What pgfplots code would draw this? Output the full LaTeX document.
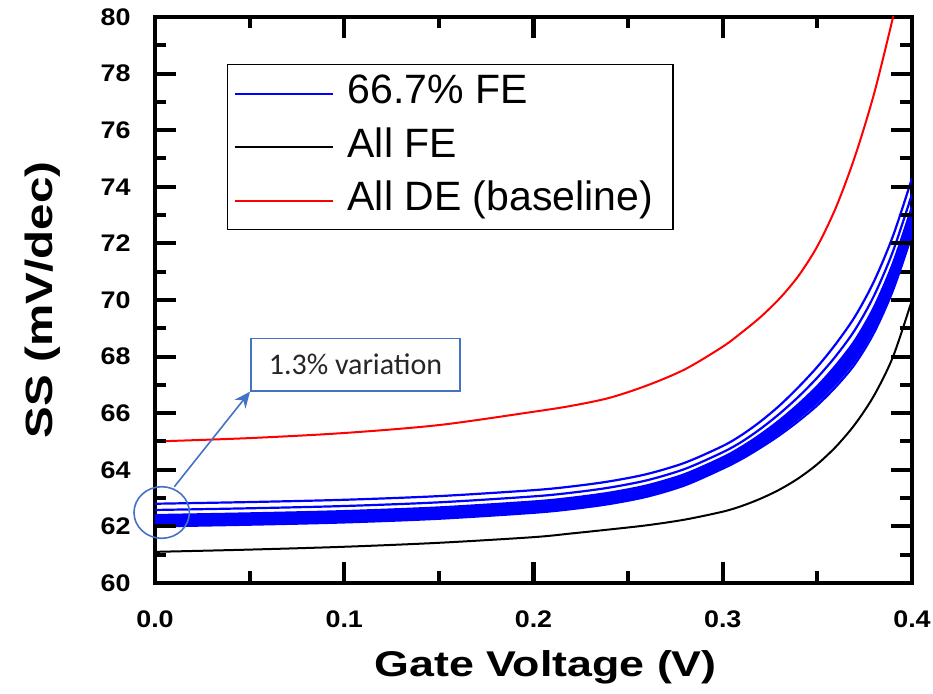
\documentclass[border=0pt]{standalone}
\usepackage{fontspec}
\setmainfont{Liberation Sans}
\newfontfamily\tickfont[FakeStretch=1.12]{Liberation Sans}
\newfontfamily\labelfont[FakeStretch=1.25]{Liberation Sans}
\newfontfamily\annfont{Carlito}
\usepackage{pgfplots}
\usepackage{pgfplotstable}
\pgfplotsset{compat=1.18}
\usetikzlibrary{arrows.meta}
\definecolor{annblue}{RGB}{68,114,196}
% 66.7% FE curves (b1..b11) and All FE (fe)
\pgfplotstableread{
x     b1    b2    b3    b4    b5    b6    b7    b8    b9    b10   b11   fe
0     62.80 62.58 62.40 62.35 62.30 62.26 62.21 62.16 62.11 62.06 62.00 61.10
0.05  62.86 62.64 62.46 62.41 62.36 62.32 62.27 62.22 62.17 62.12 62.06 61.18
0.10  62.94 62.72 62.54 62.49 62.44 62.40 62.35 62.30 62.25 62.20 62.14 61.28
0.15  63.07 62.85 62.67 62.62 62.57 62.53 62.48 62.43 62.38 62.33 62.27 61.42
0.20  63.28 63.06 62.88 62.83 62.78 62.74 62.69 62.64 62.59 62.54 62.48 61.62
0.22  63.41 63.19 63.01 62.96 62.91 62.87 62.82 62.77 62.72 62.67 62.61 61.75
0.24  63.59 63.37 63.19 63.14 63.09 63.05 63.00 62.95 62.90 62.85 62.79 61.89
0.26  63.85 63.63 63.45 63.40 63.35 63.31 63.26 63.21 63.16 63.11 63.05 62.04
0.28  64.25 64.03 63.85 63.80 63.75 63.71 63.66 63.61 63.56 63.51 63.45 62.24
0.30  64.84 64.62 64.44 64.39 64.34 64.30 64.25 64.20 64.15 64.10 64.04 62.52
0.31  65.23 64.99 64.81 64.75 64.70 64.65 64.60 64.55 64.50 64.45 64.38 62.72
0.32  65.71 65.45 65.25 65.19 65.13 65.08 65.02 64.97 64.91 64.85 64.78 62.98
0.33  66.27 65.98 65.75 65.68 65.62 65.56 65.49 65.43 65.37 65.30 65.22 63.30
0.34  66.92 66.58 66.32 66.25 66.18 66.10 66.03 65.96 65.89 65.82 65.72 63.70
0.35  67.64 67.26 66.96 66.88 66.80 66.72 66.63 66.55 66.47 66.39 66.28 64.20
0.36  68.47 68.04 67.71 67.62 67.53 67.44 67.35 67.25 67.16 67.07 66.95 64.83
0.37  69.43 68.96 68.59 68.49 68.39 68.29 68.19 68.09 67.99 67.88 67.75 65.62
0.38  70.67 70.16 69.76 69.65 69.54 69.43 69.32 69.21 69.11 69.00 68.85 66.63
0.39  72.27 71.73 71.31 71.20 71.08 70.96 70.85 70.73 70.62 70.50 70.35 68.00
0.40  74.30 73.74 73.30 73.18 73.06 72.94 72.82 72.70 72.58 72.46 72.30 70.00
}\fetable
% All DE (baseline)
\pgfplotstableread{
x     de
0     65.00
0.05  65.12
0.10  65.30
0.15  65.58
0.20  66.05
0.22  66.26
0.24  66.54
0.26  66.98
0.28  67.55
0.30  68.35
0.31  68.85
0.32  69.40
0.33  70.05
0.34  70.85
0.35  71.90
0.36  73.30
0.37  75.10
0.38  77.30
0.39  80.00
0.395 81.50
}\detable
\begin{document}
\begin{tikzpicture}
\begin{axis}[
  width=378.5pt, height=283pt, scale only axis,
  line width=2.2pt,
  xmin=0, xmax=0.4, ymin=60, ymax=80,
  xtick={0,0.1,0.2,0.3,0.4}, ytick={60,62,64,66,68,70,72,74,76,78,80},
  minor x tick num=1, minor y tick num=1,
  tick align=inside,
  major tick length=10.5pt, minor tick length=5.75pt,
  tick style={black, line width=2pt},
  xticklabel style={font=\tickfont\bfseries\fontsize{12}{14}\selectfont, yshift=-9.3pt},
  yticklabel style={font=\tickfont\bfseries\fontsize{12}{14}\selectfont, xshift=-7.8pt},
  xticklabels={0.0,0.1,0.2,0.3,0.4},
  yticklabels={60,62,64,66,68,70,72,74,76,78,80},
  xlabel={Gate Voltage (V)},
  ylabel={SS (mV/dec)},
  xlabel style={font=\labelfont\bfseries\fontsize{17.9}{20}\selectfont, at={(axis description cs:0.516,-0.166)}, anchor=base},
  ylabel style={font=\labelfont\bfseries\fontsize{19}{22}\selectfont, at={(axis description cs:-0.136,0.5)}, anchor=base},
  legend style={at={(0.0951,0.917)}, anchor=north west, draw=black, line width=0.6pt,
    font=\fontsize{20.5}{24}\selectfont, inner xsep=3pt, inner ysep=3pt, row sep=3.5pt,
    nodes={inner ysep=2pt, inner xsep=7pt, text height=14.7pt, text depth=4.5pt}},
  legend cell align=left,
  legend image code/.code={\draw[#1, line width=1pt] (0pt,0pt) -- (49pt,0pt);},
]
\addplot[blue, line width=1.1pt, smooth] table[x=x, y=b1] {\fetable};
\addlegendentry{66.7\% FE}
\addplot[blue, line width=1.1pt, smooth, forget plot] table[x=x, y=b2] {\fetable};
\addplot[blue, line width=1.1pt, smooth, forget plot] table[x=x, y=b3] {\fetable};
\addplot[blue, line width=1.1pt, smooth, forget plot] table[x=x, y=b4] {\fetable};
\addplot[blue, line width=1.1pt, smooth, forget plot] table[x=x, y=b5] {\fetable};
\addplot[blue, line width=1.1pt, smooth, forget plot] table[x=x, y=b6] {\fetable};
\addplot[blue, line width=1.1pt, smooth, forget plot] table[x=x, y=b7] {\fetable};
\addplot[blue, line width=1.1pt, smooth, forget plot] table[x=x, y=b8] {\fetable};
\addplot[blue, line width=1.1pt, smooth, forget plot] table[x=x, y=b9] {\fetable};
\addplot[blue, line width=1.1pt, smooth, forget plot] table[x=x, y=b10] {\fetable};
\addplot[blue, line width=1.1pt, smooth, forget plot] table[x=x, y=b11] {\fetable};
\addplot[black, line width=1pt, smooth] table[x=x, y=fe] {\fetable};
\addlegendentry{All FE}
\addplot[red, line width=1pt, smooth] table[x=x, y=de] {\detable};
\addlegendentry{All DE (baseline)}
\coordinate (ellc) at (axis cs:0.00354,62.49);
\coordinate (arrs) at (axis cs:0.0102,63.40);
\coordinate (arre) at (axis cs:0.0502,66.76);
\end{axis}
% inward tick marks on all four sides, as filled bars (axis box 378.5pt x 283pt at the origin)
\foreach \x in {94.625,189.25,283.875} {
  \fill[black] (\x pt,0pt) ++(-1pt,0pt) rectangle ++(2pt,10.5pt);
  \fill[black] (\x pt,283pt) ++(-1pt,0pt) rectangle ++(2pt,-10.5pt);
}
\foreach \x in {47.3125,141.9375,236.5625,331.1875} {
  \fill[black] (\x pt,0pt) ++(-1pt,0pt) rectangle ++(2pt,5.75pt);
  \fill[black] (\x pt,283pt) ++(-1pt,0pt) rectangle ++(2pt,-5.75pt);
}
\foreach \y in {28.3,56.6,84.9,113.2,141.5,169.8,198.1,226.4,254.7} {
  \fill[black] (0pt,\y pt) ++(0pt,-1pt) rectangle ++(10.5pt,2pt);
  \fill[black] (378.5pt,\y pt) ++(0pt,-1pt) rectangle ++(-10.5pt,2pt);
}
\foreach \y in {14.15,42.45,70.75,99.05,127.35,155.65,183.95,212.25,240.55,268.85} {
  \fill[black] (0pt,\y pt) ++(0pt,-1pt) rectangle ++(5.75pt,2pt);
  \fill[black] (378.5pt,\y pt) ++(0pt,-1pt) rectangle ++(-5.75pt,2pt);
}
\draw[annblue, line width=0.8pt] (ellc) ellipse [x radius=13.85pt, y radius=12.9pt];
\draw[annblue, line width=0.8pt, -{Stealth[length=8pt, width=7pt]}] (arrs) -- (arre);
\node[draw=annblue, line width=0.8pt, fill=white, anchor=south west, minimum width=104.7pt, minimum height=26.2pt, inner sep=0pt, font=\annfont\fontsize{15}{18}\selectfont, text=black!85] at (arre) {1.3\% variation};
\pgfresetboundingbox
\useasboundingbox (-77.5pt,-55.5pt) rectangle (389pt,291.5pt);
\end{tikzpicture}
\end{document}
